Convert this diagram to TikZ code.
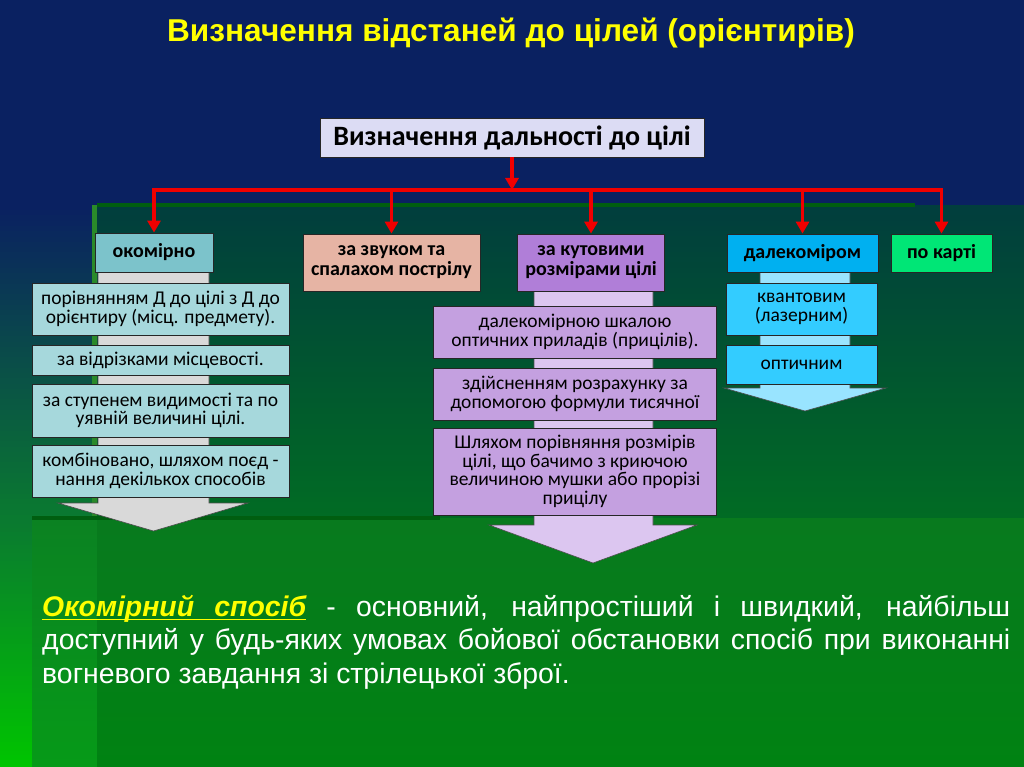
\documentclass[tikz,border=0pt]{standalone}
\usepackage{fontspec}
\setmainfont{Liberation Sans}
\newfontfamily\calfont{Carlito}
\usetikzlibrary{arrows.meta}
\newcommand\ulword[1]{\setbox0\hbox{#1}\rlap{\vrule height -2.5pt depth 4pt width \wd0}\box0}
\newcommand\ulspace{\leaders\hrule height -2.5pt depth 4pt\hskip\fontdimen2\font plus \fontdimen3\font minus \fontdimen4\font}
% manual vertical gradient: x1,y1,x2,y2,top colour,bottom colour
\newcommand\vgrad[6]{\foreach \gi in {0,...,59}{\pgfmathsetmacro\gya{#2+(#4-#2)/60*\gi}\pgfmathsetmacro\gyb{#2+(#4-#2)/60*(\gi+1)+0.6}\pgfmathsetmacro\gpct{100/59*\gi}\fill[#6!\gpct!#5] (#1,\gya) rectangle (#3,\gyb);}}
\definecolor{navy}{HTML}{0A2161}
\definecolor{panelTop}{HTML}{013E3D}
\definecolor{panelBot}{HTML}{016B24}
\definecolor{leftMid}{HTML}{0A7A30}
\definecolor{leftBot}{HTML}{00C400}
\definecolor{lowTop}{HTML}{087A1E}
\definecolor{lowBot}{HTML}{008212}
\definecolor{lowLeftTop}{HTML}{0B8222}
\definecolor{lowLeftBot}{HTML}{069A18}
\definecolor{stripe}{HTML}{2A8A2A}
\definecolor{darkline}{HTML}{005E10}
\definecolor{titleYellow}{HTML}{FFFF00}
\definecolor{redline}{HTML}{F00000}
\definecolor{topFill}{HTML}{DCDCF4}
\definecolor{okHead}{HTML}{7CC3CB}
\definecolor{okSub}{HTML}{A6D8DC}
\definecolor{okArrow}{HTML}{D9D9D9}
\definecolor{zvFill}{HTML}{E6B4A4}
\definecolor{kuHead}{HTML}{B07ED8}
\definecolor{kuSub}{HTML}{C4A0E0}
\definecolor{kuArrow}{HTML}{DCC6F0}
\definecolor{daHead}{HTML}{00B0F0}
\definecolor{daSub}{HTML}{33CCFF}
\definecolor{daArrow}{HTML}{99E4FF}
\definecolor{kaFill}{HTML}{00E676}
\tikzset{
  box/.style={draw=black!85, line width=0.8pt, inner sep=0pt, align=center, text=black},
  headbox/.style={box, font=\fontsize{20}{20}\selectfont\calfont\bfseries},
  subbox/.style={box, font=\fontsize{19.5}{18.5}\selectfont\calfont},
  blockarrow/.style={draw=black!70, line width=0.6pt},
  conn/.style={draw=redline, line width=3.4pt},
  tip/.style={-{Triangle[width=13pt,length=12pt]}}
}
\begin{document}
\begin{tikzpicture}[x=1pt,y=-1pt]
\useasboundingbox (0,0) rectangle (1024,767);
% background
\fill[navy] (0,0) rectangle (1024,767);
\vgrad{0}{205}{92}{520}{navy}{leftMid}
\vgrad{0}{520}{92}{767}{leftMid}{leftBot}
\vgrad{92}{205}{1024}{518}{panelTop}{panelBot}
\vgrad{32}{518}{1024}{767}{lowTop}{lowBot}
\vgrad{32}{518}{97}{767}{lowLeftTop}{lowLeftBot}
\fill[stripe] (92,205) rectangle (97,518);
\fill[darkline] (97,203) rectangle (915,207);
\fill[darkline] (32,516) rectangle (440,520);

% title
\node[font=\fontsize{31.6}{34}\selectfont\bfseries, text=titleYellow] (title) at (511,33) {Визначення відстаней до цілей (орієнтирів)};

% block arrows
\filldraw[fill=okArrow, blockarrow] (98,272) -- (209,272) -- (209,503) -- (248,503) -- (153.5,531) -- (58,503) -- (98,503) -- cycle;
\filldraw[fill=kuArrow, blockarrow] (534,291) -- (653,291) -- (653,525) -- (697,525) -- (593,563) -- (489,525) -- (534,525) -- cycle;
\filldraw[fill=daArrow, blockarrow] (760,272) -- (850,272) -- (850,388) -- (886,388) -- (805,411) -- (724,388) -- (760,388) -- cycle;

% top box
\node[box, fill=topFill, minimum width=384pt, minimum height=39pt, font=\fontsize{28}{30}\selectfont\calfont\bfseries] (top) at (512,137.5) {Визначення дальності до цілі};

% level 1
\node[headbox, fill=okHead, minimum width=118pt, minimum height=39pt] (okom) at (154,252.5) {окомірно};
\node[headbox, fill=zvFill, minimum width=177pt, minimum height=57pt] (zvuk) at (391.5,262.5) {за звуком та\\спалахом пострілу};
\node[headbox, fill=kuHead, minimum width=147pt, minimum height=57pt] (kut) at (591,262.5) {за кутовими\\розмірами цілі};
\node[headbox, fill=daHead, minimum width=151pt, minimum height=38pt] (dal) at (802.5,253) {далекоміром};
\node[headbox, fill=kaFill, minimum width=101pt, minimum height=38pt] (kart) at (941.5,253) {по карті};

% okomirno sub-boxes
\node[subbox, fill=okSub, minimum width=257pt, minimum height=52pt] (o1) at (160.5,309) {порівнянням Д до цілі з Д до\\орієнтиру (місц. предмету).};
\node[subbox, fill=okSub, minimum width=257pt, minimum height=30pt] (o2) at (160.5,360) {за відрізками місцевості.};
\node[subbox, fill=okSub, minimum width=257pt, minimum height=53pt] (o3) at (160.5,410.5) {за ступенем видимості та по\\уявній величині цілі.};
\node[subbox, fill=okSub, minimum width=257pt, minimum height=52pt] (o4) at (160.5,471) {комбіновано, шляхом поєд -\\нання декількох способів};

% kutovymy sub-boxes
\node[subbox, fill=kuSub, minimum width=283pt, minimum height=52pt] (k1) at (575,332) {далекомірною шкалою\\оптичних приладів (прицілів).};
\node[subbox, fill=kuSub, minimum width=283pt, minimum height=52pt] (k2) at (575,394) {здійсненням розрахунку за\\допомогою формули тисячної};
\node[subbox, fill=kuSub, minimum width=283pt, minimum height=87pt] (k3) at (575,471.5) {Шляхом порівняння розмірів\\цілі, що бачимо з криючою\\величиною мушки або прорізі\\прицілу};

% dalekomirom sub-boxes
\node[subbox, fill=daSub, minimum width=151pt, minimum height=52pt] (d1) at (801.5,309) {квантовим\\(лазерним)};
\node[subbox, fill=daSub, minimum width=151pt, minimum height=39pt] (d2) at (801.5,364.5) {оптичним};

% red connectors
\coordinate (bar) at (512,190);
\draw[conn, tip] (top.south) -- (top.south |- bar);
\draw[conn, tip] (top.south |- bar) -| (okom.north);
\draw[conn, tip] (top.south |- bar) -| (kart.north);
\draw[conn, tip] (zvuk.north |- bar) -- (zvuk.north);
\draw[conn, tip] (kut.north |- bar) -- (kut.north);
\draw[conn, tip] (dal.north |- bar) -- (dal.north);

% paragraph
\node[anchor=north west, text width=968pt, align=justify, inner sep=0pt, text=white, font=\fontsize{28.4}{33.5}\selectfont] (para) at (42,595) {\hyphenpenalty=10000\exhyphenpenalty=10000{\color{titleYellow}\bfseries\itshape\ulword{Окомірний}\ulspace\ulword{спосіб}} - основний, найпростіший і швидкий, найбільш\linebreak доступний у будь-яких умовах бойової обстановки спосіб при виконанні\linebreak вогневого завдання зі стрілецької зброї.};
\end{tikzpicture}
\end{document}
